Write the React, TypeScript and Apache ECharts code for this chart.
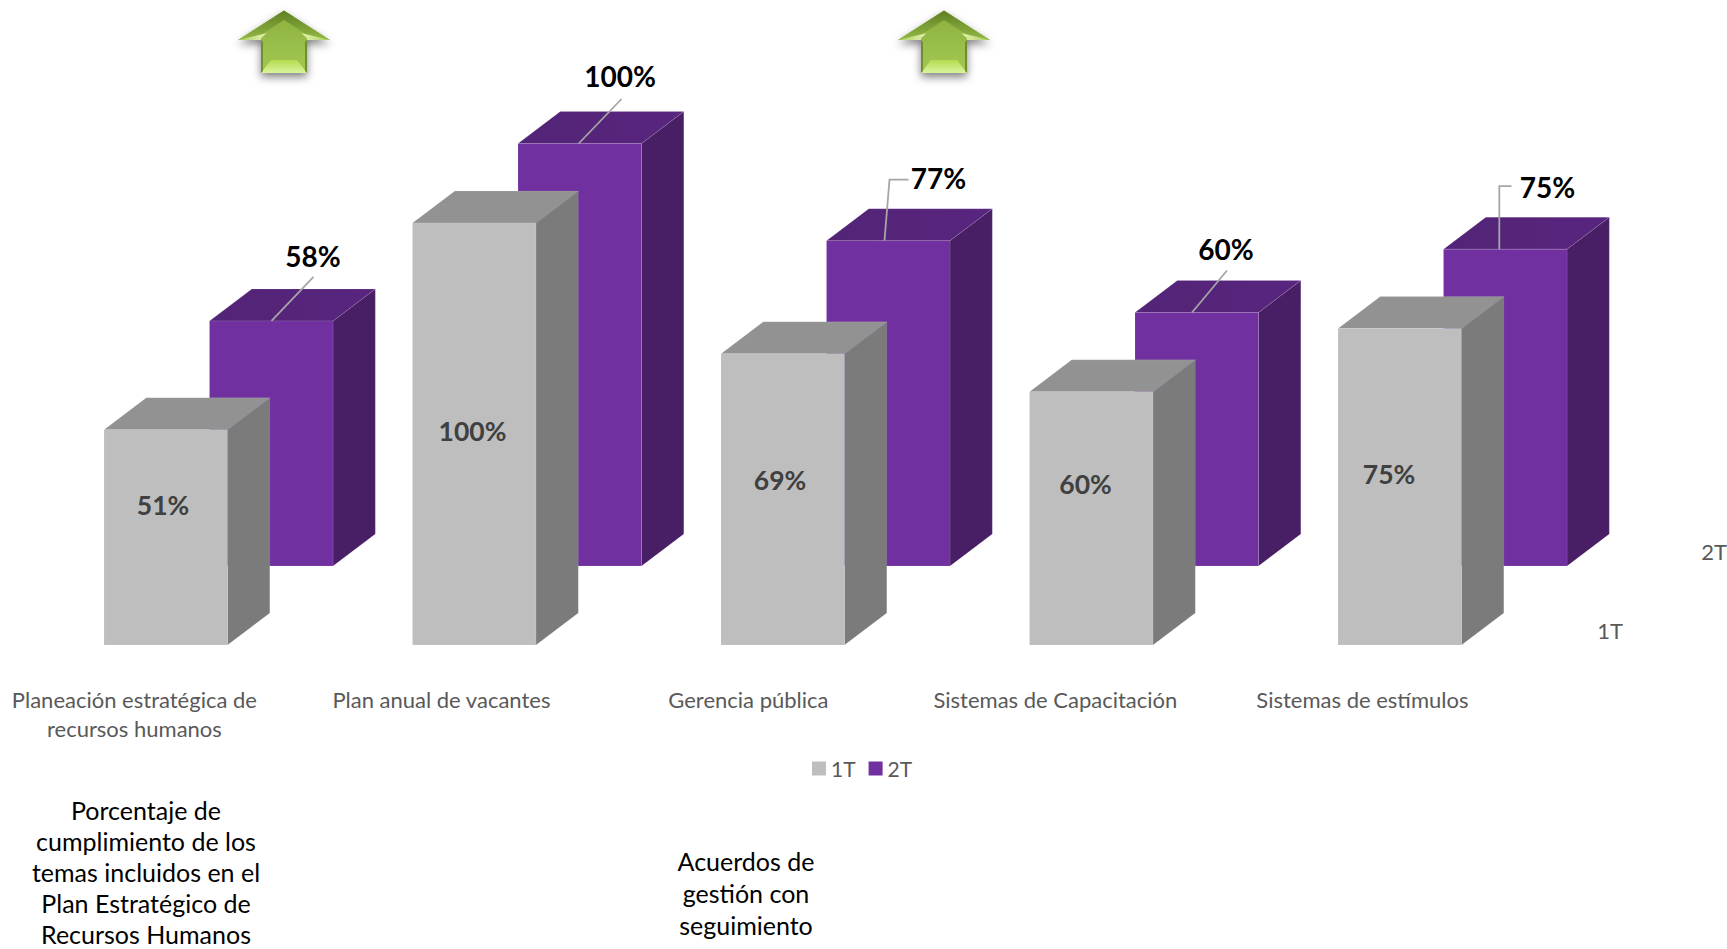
import React, { useEffect, useRef } from "react";
import * as echarts from "echarts";

const categories = [
  "Planeación estratégica de\nrecursos humanos",
  "Plan anual de vacantes",
  "Gerencia pública",
  "Sistemas de Capacitación",
  "Sistemas de estímulos",
];
const firstQuarter = [51, 100, 69, 60, 75];
const secondQuarter = [58, 100, 77, 60, 75];

const FONT = "Lato, 'Open Sans', sans-serif";
const BAND = 308.5;
const BAR_W = 123.5;
const DEPTH_X = 42.3;
const DEPTH_Y = 32;
const FRONT_INSET = -30.4;

// Inner label position of each front-row bar, relative to the front face's top-left corner.
const innerLabelOffsets = [
  [59, 75],
  [60, 208],
  [59, 126],
  [56, 92],
  [51, 145],
];
// Callout of each back-row bar, relative to the front face's top-left corner.
const callouts = [
  { line: [[62, 0], [104, -44]], label: [103.5, -65] },
  { line: [[60.7, 0], [103.5, -44.5]], label: [102, -67.5] },
  { line: [[58, 0], [63, -61], [82, -61]], label: [112, -63] },
  { line: [[57, 0], [92, -42]], label: [91, -64] },
  { line: [[55.8, 0], [55.8, -63], [68, -63]], label: [104, -62] },
];

const GREY = { front: "#BEBEBE", side: "#7B7B7B", top: "#929292", topEnd: "#929292" };
const PURPLE = { front: "#7030A0", side: "#481E64", top: "#522476", topEnd: "#59257F" };

function boxElements(left: number, top: number, base: number, c: typeof GREY) {
  const right = left + BAR_W;
  const edge = { stroke: "rgba(255,255,255,0.1)", lineWidth: 1 };
  return [
    {
      type: "polygon",
      shape: { points: [[right, top], [right + DEPTH_X, top - DEPTH_Y], [right + DEPTH_X, base - DEPTH_Y], [right, base]] },
      style: { fill: c.side, ...edge },
    },
    {
      type: "polygon",
      shape: { points: [[left, top], [left + DEPTH_X, top - DEPTH_Y], [right + DEPTH_X, top - DEPTH_Y], [right, top]] },
      style: {
        fill: new echarts.graphic.LinearGradient(0, 0, 1, 0, [
          { offset: 0, color: c.top },
          { offset: 1, color: c.topEnd },
        ]),
        ...edge,
      },
    },
    {
      type: "rect",
      shape: { x: left, y: top, width: BAR_W, height: base - top },
      style: { fill: c.front, ...edge },
    },
  ];
}

const renderFrontRow = (params: any, api: any) => {
  const i = api.value(0);
  const [cx, top] = api.coord([i, api.value(1)]);
  const [, base] = api.coord([i, 0]);
  const left = cx + FRONT_INSET;
  const [ox, oy] = innerLabelOffsets[i];
  return {
    type: "group",
    children: [
      ...boxElements(left, top, base, GREY),
      {
        type: "text",
        x: left + ox,
        y: top + oy,
        style: {
          text: `${api.value(1)}%`,
          fill: "#404040",
          font: `bold 26.5px ${FONT}`,
          align: "center",
          verticalAlign: "middle",
        },
      },
    ],
  };
};

const renderBackRow = (params: any, api: any) => {
  const i = api.value(0);
  const [cx, top] = api.coord([i, api.value(1)]);
  const [, base] = api.coord([i, 0]);
  const left = cx + FRONT_INSET;
  const call = callouts[i];
  return {
    type: "group",
    children: [
      ...boxElements(left, top, base, PURPLE),
      {
        type: "polyline",
        shape: { points: call.line.map(([x, y]) => [left + x, top + y]) },
        style: { stroke: "#A6A6A6", lineWidth: 1.8, fill: "none" },
      },
      {
        type: "text",
        x: left + call.label[0],
        y: top + call.label[1],
        style: {
          text: `${api.value(1)}%`,
          fill: "#000000",
          font: `bold 28px ${FONT}`,
          align: "center",
          verticalAlign: "middle",
        },
      },
    ],
  };
};

const vertical = (from: string, to: string) =>
  new echarts.graphic.LinearGradient(0, 0, 0, 1, [
    { offset: 0, color: from },
    { offset: 1, color: to },
  ]);

// Beveled green arrow, drawn from shaded facets.
function arrow(cx: number) {
  const tip = [cx, 10.5];
  const wl = [cx - 46, 40];
  const wr = [cx + 46, 40];
  const sl = cx - 23;
  const sr = cx + 23;
  const bottom = 73;
  const outline = [tip, wr, [sr, 40], [sr, bottom], [sl, bottom], [sl, 40], wl];
  return {
    type: "group",
    children: [
      {
        type: "polygon",
        shape: { points: outline },
        style: {
          fill: vertical("#8DB03E", "#A2C853"),
          shadowBlur: 8,
          shadowOffsetY: 4,
          shadowColor: "rgba(0,0,0,0.5)",
        },
      },
      {
        type: "polygon",
        shape: { points: [wl, tip, wr, [cx + 20, 33], [cx, 20], [cx - 20, 33]] },
        style: { fill: vertical("#5F7F22", "#93B845") },
      },
      {
        type: "polygon",
        shape: { points: [wl, [cx - 17.5, 33.3], [sl, 38.3], [sl, 40]] },
        style: {
          fill: new echarts.graphic.LinearGradient(0, 0, 1, 0, [
            { offset: 0, color: "#A9CB5B" },
            { offset: 1, color: "#E6F5B5" },
          ]),
        },
      },
      {
        type: "polygon",
        shape: { points: [wr, [cx + 17.5, 33.3], [sr, 38.3], [sr, 40]] },
        style: {
          fill: new echarts.graphic.LinearGradient(1, 0, 0, 0, [
            { offset: 0, color: "#A9CB5B" },
            { offset: 1, color: "#E6F5B5" },
          ]),
        },
      },
      {
        type: "polygon",
        shape: { points: [[sl, bottom], [sl + 10, 60], [sr - 10, 60], [sr, bottom]] },
        style: { fill: vertical("#B4DC4E", "#DAF39D") },
      },
      {
        type: "polygon",
        shape: { points: [[sl, 40], [sl + 2, 42], [sl + 2, bottom - 2], [sl, bottom]] },
        style: { fill: "#6F8F2E" },
      },
      {
        type: "polygon",
        shape: { points: [[sr, 40], [sr - 2, 42], [sr - 2, bottom - 2], [sr, bottom]] },
        style: { fill: "#6F8F2E" },
      },
    ],
  };
}

function note(x: number, y: number, text: string, fill: string, size: number, lineHeight: number) {
  return {
    type: "text",
    x,
    y,
    style: { text, fill, font: `${size}px ${FONT}`, align: "center", verticalAlign: "top", lineHeight },
  };
}

export default function App() {
  const ref = useRef<HTMLDivElement>(null);
  useEffect(() => {
    const chart = echarts.init(ref.current!, undefined, { renderer: "svg" });
    const rowAxis = (gridIndex: number, showLabels: boolean) => ({
      type: "category" as const,
      gridIndex,
      data: categories,
      axisLine: { show: false },
      axisTick: { show: false },
      axisLabel: {
        show: showLabels,
        color: "#595959",
        fontFamily: FONT,
        fontSize: 22,
        margin: 41,
        lineHeight: 29,
        interval: 0,
      },
    });
    const valueAxis = (gridIndex: number) => ({
      type: "value" as const,
      gridIndex,
      min: 0,
      max: 100,
      show: false,
    });
    chart.setOption({
      animation: false,
      backgroundColor: "#ffffff",
      legend: {
        data: ["1T", "2T"],
        left: 807,
        top: 753,
        itemWidth: 14,
        itemHeight: 14,
        itemGap: 13,
        icon: "rect",
        textStyle: { color: "#595959", fontFamily: FONT, fontSize: 21 },
      },
      // Front row, back row, and the slightly tighter band that carries the category names.
      grid: [
        { left: -19.85, top: 223, width: BAND * 5, height: 422, outerBoundsMode: "none" },
        { left: 85.65, top: 143.5, width: BAND * 5, height: 422.5, outerBoundsMode: "none" },
        { left: -19.1, top: 222.5, width: 307 * 5, height: 421.5, outerBoundsMode: "none" },
      ],
      xAxis: [rowAxis(0, false), rowAxis(1, false), rowAxis(2, true)],
      yAxis: [valueAxis(0), valueAxis(1), valueAxis(2)],
      series: [
        {
          name: "2T",
          type: "custom",
          xAxisIndex: 1,
          yAxisIndex: 1,
          z: 2,
          clip: false,
          itemStyle: { color: PURPLE.front },
          renderItem: renderBackRow,
          encode: { x: 0, y: 1 },
          data: secondQuarter.map((v, i) => [i, v]),
        },
        {
          name: "1T",
          type: "custom",
          xAxisIndex: 0,
          yAxisIndex: 0,
          z: 3,
          clip: false,
          itemStyle: { color: GREY.front },
          renderItem: renderFrontRow,
          encode: { x: 0, y: 1 },
          data: firstQuarter.map((v, i) => [i, v]),
        },
      ],
      graphic: [
        arrow(284),
        arrow(944),
        note(1610, 617, "1T", "#595959", 22, 26),
        note(1714, 538, "2T", "#595959", 22, 26),
        note(146, 794, "Porcentaje de\ncumplimiento de los\ntemas incluidos en el\nPlan Estratégico de\nRecursos Humanos", "#000000", 25, 31),
        note(746, 845, "Acuerdos de\ngestión con\nseguimiento", "#000000", 25, 32),
      ],
    });
    return () => chart.dispose();
  }, []);
  return <div ref={ref} style={{ position: "absolute", left: 0, top: 0, width: 1727, height: 949 }} />;
}
